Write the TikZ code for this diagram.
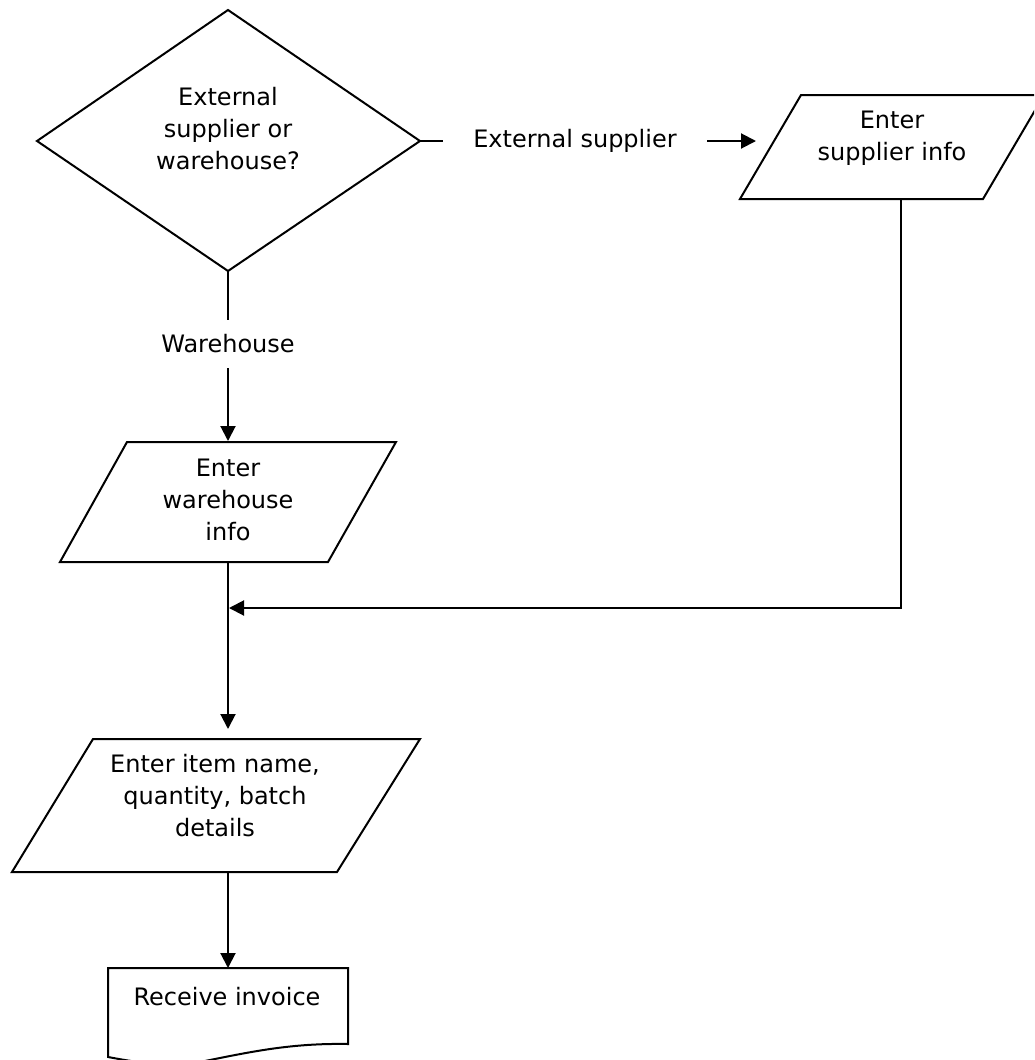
\documentclass[tikz,border=0pt]{standalone}
\usepackage{fontspec}
\setmainfont{DejaVu Sans}
\usetikzlibrary{arrows.meta}
\begin{document}
\begin{tikzpicture}[x=1pt,y=-1pt,
  shapeline/.style={draw=black,line width=2pt,line join=miter},
  conn/.style={draw=black,line width=2pt},
  arr/.style={conn,-{Triangle[length=15pt,width=15pt]}},
  lbl/.style={font=\fontsize{24}{32}\selectfont,align=center,inner sep=0pt},
]
\useasboundingbox (0,0) rectangle (1034,1060);
\clip (0,0) rectangle (1034,1060);
% decision
\draw[shapeline] (228,10) -- (420,141) coordinate (deast) -- (228,271) coordinate (dsouth) -- (37,141) -- cycle;
\node[lbl] (dtext) at (228,129) {External\\supplier or\\warehouse?};
% supplier info
\draw[shapeline] (801,95) -- (1044,95) -- (983,199) -- (740,199) -- cycle;
\coordinate (sin) at (756,141);
\coordinate (sbottom) at (901,199);
\node[lbl] (stext) at (892,138) {Enter\\supplier info};
% external supplier label
\node[lbl,minimum width=264pt] (lext) at (575,141) {External supplier};
\draw[conn] (deast) -- (lext);
\draw[arr] (lext) -- (sin);
% warehouse label
\node[lbl,minimum height=48pt] (lwh) at (228,344) {Warehouse};
% warehouse info
\draw[shapeline] (127,442) -- (396,442) -- (328,562) -- (60,562) -- cycle;
\coordinate (wtop) at (228,441);
\coordinate (wbottom) at (228,562);
\node[lbl] (wtext) at (228,500) {Enter\\warehouse\\info};
\draw[conn] (dsouth) -- (lwh);
\draw[arr] (lwh) -- (wtop);
% merge
\coordinate (merge) at (229,608);
\coordinate (itopin) at (228,729);
\draw[arr] (sbottom) |- (merge);
\draw[arr] (wbottom) -- (itopin);
% item details
\draw[shapeline] (93,739) -- (420,739) -- (337,872) -- (12,872) -- cycle;
\coordinate (ibottom) at (228,872);
\node[lbl] (itext) at (215,796) {Enter item name,\\quantity, batch\\details};
% document
\draw[shapeline] (108,968) -- (348,968) -- (348,1044)
  .. controls (290,1043) and (250,1052) .. (200,1062)
  .. controls (165,1068) and (130,1061) .. (108,1057) -- cycle;
\coordinate (ddtop) at (228,968);
\node[lbl] (dctext) at (227,997) {Receive invoice};
\draw[arr] (ibottom) -- (ddtop);
\end{tikzpicture}
\end{document}
